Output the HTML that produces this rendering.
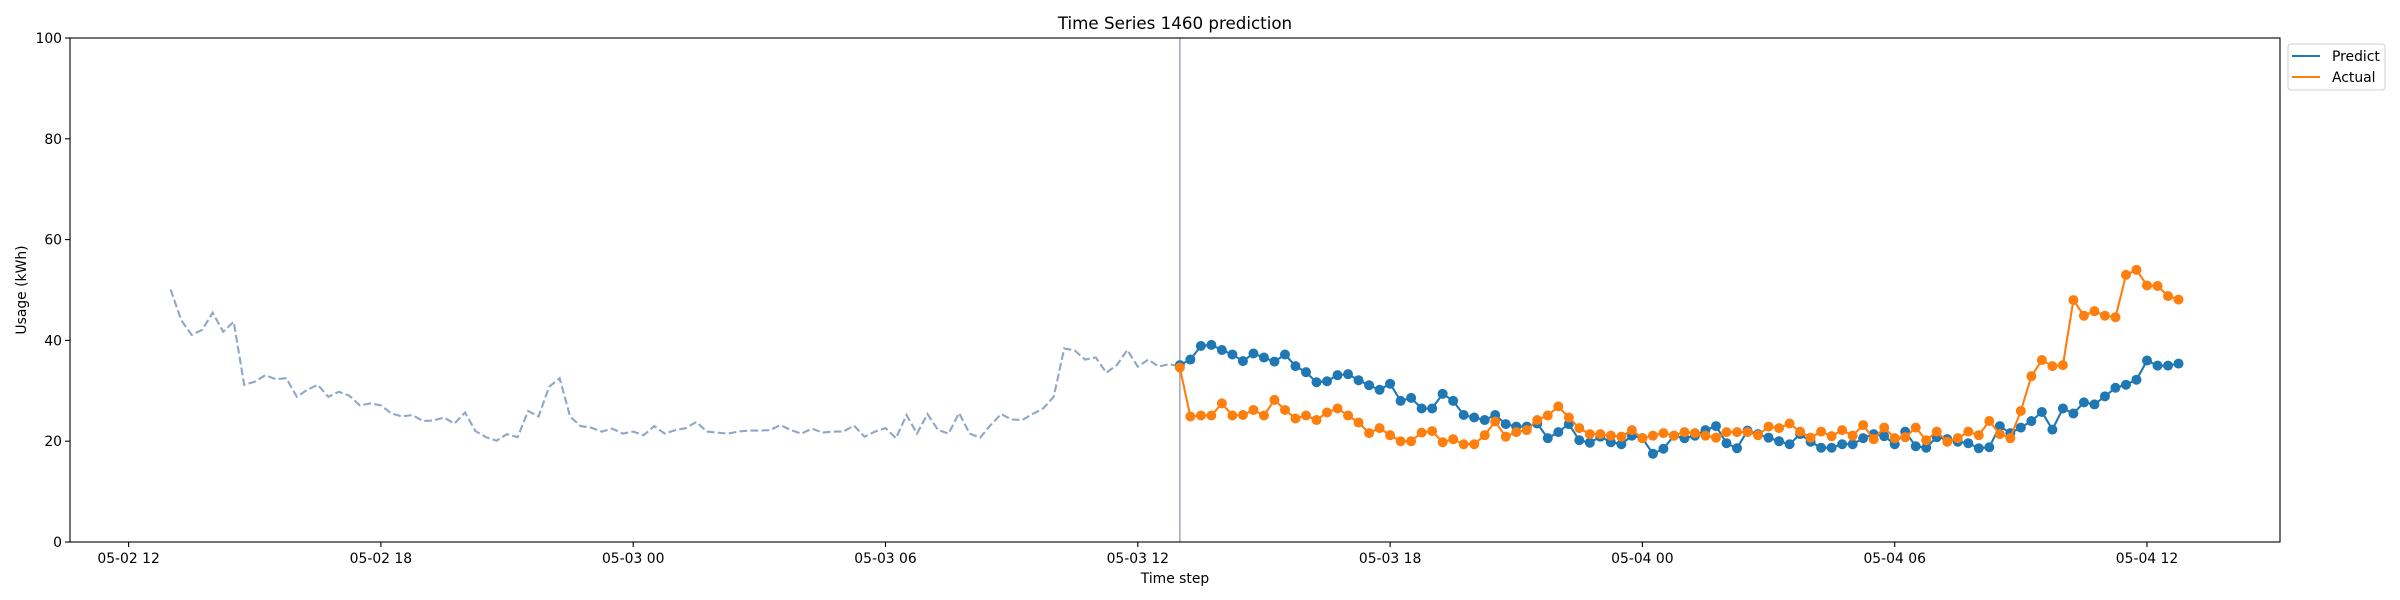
<!DOCTYPE html>
<html><head><meta charset="utf-8"><style>
html,body{margin:0;padding:0;background:#fff;}
svg{display:block;font-family:"DejaVu Sans","Liberation Sans",sans-serif;}
</style></head><body>
<svg id="chart" width="2400" height="600" viewBox="0 0 2400 600">
<rect width="2400" height="600" fill="#fff"/>
<text x="1175" y="29" font-size="16.7" text-anchor="middle" fill="#000">Time Series 1460 prediction</text>
<g id="plot"></g>
<rect x="70" y="38" width="2210" height="504" fill="none" stroke="#000" stroke-width="1.1"/>
<g id="xaxis"></g>
<g id="yaxis"></g>
<text x="1175" y="583" font-size="13.9" text-anchor="middle">Time step</text>
<text transform="translate(26,290) rotate(-90)" font-size="13.9" text-anchor="middle">Usage (kWh)</text>
<g>
<rect x="2288" y="44" width="97" height="46" rx="3" fill="#fff" stroke="#d0d0d0" stroke-width="1"/>
<g>
<line x1="2292" y1="56" x2="2320" y2="56" stroke="#1f77b4" stroke-width="2.1"/>
<text x="2332" y="61" font-size="13.9">Predict</text></g>
<g>
<line x1="2292" y1="77" x2="2320" y2="77" stroke="#ff7f0e" stroke-width="2.1"/>
<text x="2332" y="82" font-size="13.9">Actual</text></g>
</g>
</svg>
<script>
const history = [50.1,44.0,41.1,42.1,45.5,41.7,43.7,31.2,31.8,33.1,32.3,32.5,28.8,30.2,31.2,28.8,29.8,29.0,27.1,27.5,27.1,25.5,24.9,25.2,24.0,
24.1,24.7,23.5,25.7,22.0,20.8,20.1,21.4,20.8,26.0,24.9,30.8,32.5,24.9,23.0,22.7,21.9,22.5,21.5,21.9,21.2,23.0,21.5,
22.2,22.6,23.8,21.9,21.7,21.5,21.9,22.1,22.1,22.2,23.2,22.2,21.5,22.5,21.7,21.9,21.9,23.1,20.9,21.9,22.6,20.6,25.2,21.5,
25.4,22.2,21.5,25.6,21.5,20.7,23.2,25.4,24.3,24.2,25.4,26.5,28.8,38.4,38.0,36.2,36.6,33.6,35.1,38.1,34.8,36.2,34.8,35.3,34.8];
const predict = [35.1,36.2,38.9,39.1,38.1,37.2,35.9,37.4,36.6,35.8,37.2,34.9,33.7,31.7,31.9,33.1,33.3,32.1,31.1,30.2,31.4,28.0,28.6,26.5,
26.5,29.4,28.0,25.2,24.7,24.2,25.2,23.4,22.9,22.9,23.5,20.6,21.8,23.4,20.2,19.7,20.9,19.8,19.4,21.1,20.6,17.5,18.5,21.1,
20.6,21.1,22.2,23.0,19.6,18.6,22.1,21.4,20.7,20.0,19.4,21.4,19.9,18.7,18.7,19.4,19.4,20.6,21.4,21.0,19.4,21.9,19.0,18.7,
20.8,20.4,19.9,19.6,18.6,18.8,23.0,21.6,22.7,24.0,25.8,22.3,26.5,25.5,27.7,27.3,28.9,30.6,31.2,32.2,36.0,35.0,35.0,35.4];
const actual = [34.6,24.9,25.1,25.1,27.5,25.1,25.2,26.2,25.1,28.2,26.2,24.5,25.1,24.2,25.7,26.5,25.1,23.7,21.6,22.6,21.2,20.0,20.0,21.7,
22.0,19.8,20.4,19.4,19.4,21.2,23.9,20.9,21.8,22.2,24.2,25.1,26.9,24.7,22.6,21.4,21.4,21.1,20.9,22.2,20.6,21.1,21.6,21.1,
21.8,21.6,21.1,20.7,21.8,21.8,21.8,21.2,22.9,22.6,23.5,21.9,20.7,21.9,21.0,22.2,21.1,23.2,20.4,22.7,20.6,20.8,22.7,20.2,
21.9,19.9,20.6,21.9,21.2,24.0,21.4,20.6,26.0,32.9,36.1,34.9,35.1,48.0,44.9,45.8,44.9,44.6,53.0,54.0,50.9,50.8,48.8,48.1];
const xTickLabels = ["05-02 12","05-02 18","05-03 00","05-03 06","05-03 12","05-03 18","05-04 00","05-04 06","05-04 12"];
const xTickHours = [0,6,12,18,24,30,36,42,48];
const yTicks = [0,20,40,60,80,100];
const historyStartHour = 1, forecastStartHour = 25, stepHours = 0.25;

const NS="http://www.w3.org/2000/svg";
function X(h){return 128.6+42.05*h;}
function Y(v){return 542-5.04*v;}
function mk(tag,attrs,parent){const e=document.createElementNS(NS,tag);for(const k in attrs)e.setAttribute(k,attrs[k]);parent.appendChild(e);return e;}
const plot=document.getElementById('plot'), xa=document.getElementById('xaxis'), ya=document.getElementById('yaxis');

xTickHours.forEach((h,i)=>{
  const t=mk('line',{x1:X(h),x2:X(h),y1:542,y2:547,stroke:'#000','stroke-width':1.1},xa);
  
  
  const l=mk('text',{x:X(h),y:563,'font-size':13.9,'text-anchor':'middle'},xa);
  l.textContent=xTickLabels[i];
  
  
});
yTicks.forEach(v=>{
  const t=mk('line',{x1:65,x2:70,y1:Y(v),y2:Y(v),stroke:'#000','stroke-width':1.1},ya);
  
  
  const l=mk('text',{x:62,y:Y(v)+5,'font-size':13.9,'text-anchor':'end'},ya);
  l.textContent=v;
  
  
});

const vl=mk('line',{x1:X(forecastStartHour),x2:X(forecastStartHour),y1:38,y2:542,stroke:'#a3aac8','stroke-width':1.6},plot);



function pts(arr,start){return arr.map((v,i)=>X(start+i*stepHours).toFixed(1)+','+Y(v).toFixed(1)).join(' ');}
const hl=mk('polyline',{points:pts(history,historyStartHour),fill:'none',stroke:'#8fa7c7','stroke-width':2.1,'stroke-dasharray':'7.7,3.3'},plot);



function series(arr,color,name){
  const g=mk('g',{},plot);
  
  
  mk('polyline',{points:pts(arr,forecastStartHour),fill:'none',stroke:color,'stroke-width':2.1},g);
  arr.forEach((v,i)=>{
    const c=mk('circle',{cx:X(forecastStartHour+i*stepHours),cy:Y(v),r:5,fill:color},g);
    
    
  });
}
series(predict,'#1f77b4','predict');
series(actual,'#ff7f0e','actual');
</script>
</body></html>
